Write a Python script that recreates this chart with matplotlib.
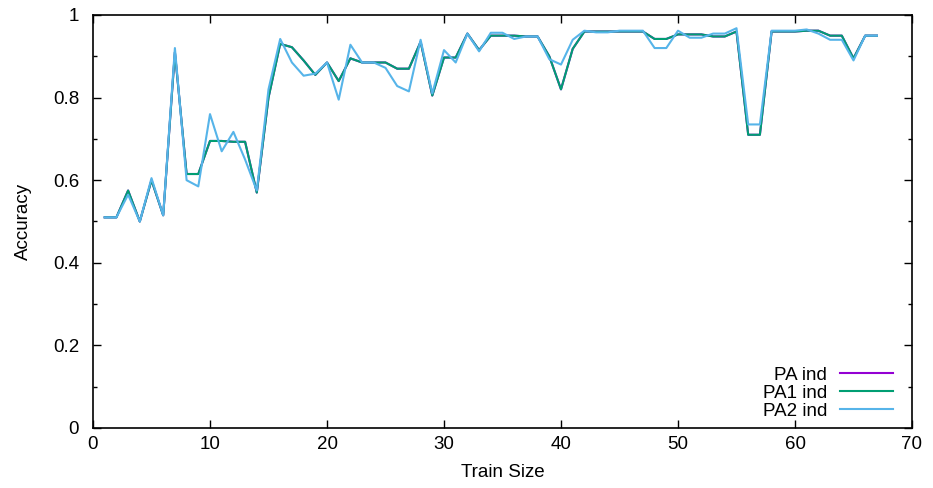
import matplotlib
matplotlib.use("Agg")
import matplotlib.pyplot as plt
from matplotlib.ticker import MultipleLocator, FuncFormatter

plt.rcParams['font.family'] = ['Liberation Sans', 'DejaVu Sans']

train_size = list(range(1, 68))

pa1 = [0.51, 0.51, 0.575, 0.50, 0.60, 0.515, 0.91, 0.615, 0.615, 0.695,
       0.695, 0.693, 0.693, 0.57, 0.80, 0.93, 0.922, 0.89, 0.855, 0.885,
       0.84, 0.895, 0.885, 0.885, 0.885, 0.87, 0.87, 0.935, 0.805, 0.897,
       0.897, 0.955, 0.915, 0.95, 0.95, 0.95, 0.948, 0.948, 0.90, 0.82,
       0.918, 0.96, 0.96, 0.96, 0.96, 0.96, 0.96, 0.942, 0.942, 0.953,
       0.953, 0.953, 0.948, 0.948, 0.96, 0.71, 0.71, 0.96, 0.96, 0.96,
       0.962, 0.962, 0.95, 0.95, 0.895, 0.95, 0.95]

pa = list(pa1)

pa2 = [0.51, 0.51, 0.565, 0.50, 0.605, 0.515, 0.92, 0.60, 0.585, 0.76,
       0.67, 0.717, 0.65, 0.575, 0.82, 0.942, 0.885, 0.853, 0.858, 0.885,
       0.795, 0.928, 0.885, 0.885, 0.872, 0.828, 0.815, 0.94, 0.81, 0.915,
       0.885, 0.955, 0.912, 0.957, 0.957, 0.942, 0.948, 0.948, 0.893, 0.88,
       0.94, 0.962, 0.958, 0.958, 0.962, 0.962, 0.962, 0.92, 0.92, 0.962,
       0.945, 0.945, 0.955, 0.955, 0.968, 0.735, 0.735, 0.962, 0.962, 0.962,
       0.965, 0.955, 0.94, 0.94, 0.89, 0.95, 0.95]

series_labels = ["PA ind", "PA1 ind", "PA2 ind"]
colors = ["#9400d3", "#009e73", "#56b4e9"]

fs = 13.5

fig = plt.figure(figsize=(9.33, 4.88), dpi=100)
ax = fig.add_axes([93/933, 60/488, (912-93)/933, (428-15)/488])

for ys, lab, c in zip([pa, pa1, pa2], series_labels, colors):
    ax.plot(train_size, ys, color=c, lw=1.5, label=lab)

ax.set_xlim(0, 70)
ax.set_ylim(0, 1)
ax.xaxis.set_major_locator(MultipleLocator(10))
ax.yaxis.set_major_locator(MultipleLocator(0.2))
ax.yaxis.set_minor_locator(MultipleLocator(0.1))
ax.yaxis.set_major_formatter(FuncFormatter(lambda v, p: f"{v:g}"))
ax.tick_params(which='both', direction='in', top=True, right=True, labelsize=fs)
ax.tick_params(axis='y', pad=10)
ax.tick_params(axis='x', pad=6)
ax.tick_params(which='major', length=6, width=1)
ax.tick_params(which='minor', length=3, width=1)
for s in ax.spines.values():
    s.set_linewidth(1.2)

ax.set_xlabel("Train Size", fontsize=fs, labelpad=8)
ax.set_ylabel("Accuracy", fontsize=fs, labelpad=15)

leg = ax.legend(loc='lower right', bbox_to_anchor=(0.99 + 3/819, -6/413), frameon=False,
                markerfirst=False, fontsize=fs, handlelength=2.8,
                labelspacing=0.05, handletextpad=0.7, borderaxespad=0.35)
for t in leg.get_texts():
    t.set_ha('right')

fig.savefig("out.png", dpi=100)
